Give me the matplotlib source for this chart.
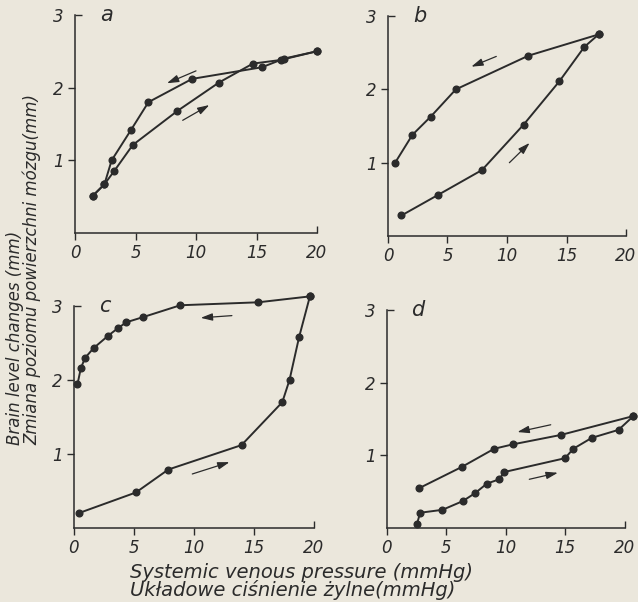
import matplotlib
matplotlib.use("Agg")
import matplotlib.pyplot as plt
import matplotlib.lines as mlines

# ---- data -------------------------------------------------------------
# panel a
a_up_x = [1.46, 2.43, 3.23, 4.77, 8.47, 11.9, 14.7, 17.0, 20.0]
a_up_y = [0.51, 0.67, 0.85, 1.21, 1.68, 2.07, 2.33, 2.38, 2.50]
a_dn_x = [20.0, 17.3, 15.45, 9.68, 6.07, 4.6, 3.03, 2.43, 1.46]
a_dn_y = [2.50, 2.40, 2.28, 2.12, 1.80, 1.41, 1.00, 0.67, 0.51]
# panel b
b_up_x = [1.13, 4.2, 7.9, 11.4, 14.4, 16.5, 17.7]
b_up_y = [0.28, 0.56, 0.90, 1.52, 2.11, 2.58, 2.75]
b_dn_x = [17.7, 11.8, 5.7, 3.6, 2.05, 0.6]
b_dn_y = [2.75, 2.46, 2.00, 1.63, 1.38, 1.00]
# panel c
c_up_x = [0.42, 5.2, 7.9, 14.0, 17.4, 18.0, 18.8, 19.7]
c_up_y = [0.20, 0.48, 0.79, 1.12, 1.70, 2.00, 2.58, 3.13]
c_dn_x = [19.7, 15.4, 8.9, 5.8, 4.4, 3.7, 2.9, 1.67, 0.97, 0.61, 0.33]
c_dn_y = [3.13, 3.05, 3.01, 2.85, 2.78, 2.70, 2.60, 2.43, 2.30, 2.16, 1.94]
# panel d
d_up_x = [2.55, 2.83, 4.7, 6.41, 7.45, 8.43, 9.47, 9.9, 15.0, 15.7, 17.25, 19.5, 20.75]
d_up_y = [0.05, 0.21, 0.25, 0.37, 0.48, 0.61, 0.67, 0.77, 0.96, 1.09, 1.24, 1.35, 1.54]
d_dn_x = [20.75, 14.65, 10.6, 9.05, 6.33, 2.77]
d_dn_y = [1.54, 1.28, 1.15, 1.09, 0.84, 0.55]

# direction arrows: (tail_x, tail_y, head_x, head_y)
a_arrows = [(10.0, 2.23, 7.6, 2.06), (8.9, 1.55, 11.1, 1.76)]
b_arrows = [(9.1, 2.45, 7.0, 2.31), (10.2, 1.00, 11.9, 1.27)]
c_arrows = [(13.2, 2.87, 10.6, 2.84), (9.9, 0.73, 13.0, 0.89)]
d_arrows = [(13.8, 1.42, 11.0, 1.32), (12.0, 0.67, 14.4, 0.76)]

panel_letters = ["a", "b", "c", "d"]
x_ticks = [0, 5, 10, 15, 20]
y_ticks = [1, 2, 3]
xlabel_en = "Systemic venous pressure (mmHg)"
xlabel_pl = "Układowe ciśnienie żylne(mmHg)"
ylabel_en = "Brain level changes (mm)"
ylabel_pl = "Zmiana poziomu powierzchni mózgu(mm)"

# ---- style ------------------------------------------------------------
BG = "#ebe7dc"
INK = "#2b2b2b"
W, H = 638, 602
fig = plt.figure(figsize=(W / 100, H / 100), dpi=100, facecolor=BG)
plt.rcParams["font.family"] = ["DejaVu Sans"]

XMAX, YMAX = 21.0, 3.25
# (left_px, x0_bottom_px, px_per_x, px_per_y)
geoms = [
    (75, 233, 12.1, 72.7),
    (388, 236, 11.9, 73.3),
    (73.5, 528, 12.0, 74.0),
    (386.5, 528, 11.9, 72.7),
]
panels = [
    (a_up_x, a_up_y, a_dn_x, a_dn_y, a_arrows),
    (b_up_x, b_up_y, b_dn_x, b_dn_y, b_arrows),
    (c_up_x, c_up_y, c_dn_x, c_dn_y, c_arrows),
    (d_up_x, d_up_y, d_dn_x, d_dn_y, d_arrows),
]

for (lp, bp, sx, sy), (ux, uy, dx, dy, arrows), letter in zip(geoms, panels, panel_letters):
    ax = fig.add_axes([lp / W, (H - bp) / H, XMAX * sx / W, YMAX * sy / H])
    ax.set_facecolor("none")
    ax.set_xlim(0, XMAX)
    ax.set_ylim(0, YMAX)
    for s in ["top", "right"]:
        ax.spines[s].set_visible(False)
    ax.spines["left"].set_bounds(0, 3)
    ax.spines["bottom"].set_bounds(0, 20)
    for s in ["left", "bottom"]:
        ax.spines[s].set_color(INK)
        ax.spines[s].set_linewidth(1.1)
    ax.set_xticks(x_ticks)
    ax.set_yticks(y_ticks)
    ax.tick_params(direction="out", length=5, width=1.0, color=INK,
                   labelcolor=INK, labelsize=12, pad=3)
    for lab in ax.get_xticklabels() + ax.get_yticklabels():
        lab.set_fontstyle("italic")
    # end ticks point inward
    ax.yaxis.get_major_ticks()[-1].tick1line.set_marker(mlines.TICKRIGHT)
    ax.xaxis.get_major_ticks()[-1].tick1line.set_marker(mlines.TICKUP)

    for xs, ys in [(ux, uy), (dx, dy)]:
        ax.plot(xs, ys, color=INK, lw=1.4, marker="o", ms=4.8,
                mfc=INK, mec=INK, clip_on=False, zorder=3)
    for tx, ty, hx, hy in arrows:
        ax.annotate("", xy=(hx, hy), xytext=(tx, ty),
                    arrowprops=dict(arrowstyle="-|>,head_length=0.7,head_width=0.22",
                                    color=INK, lw=0.9, shrinkA=0, shrinkB=0))
    ax.text(2.1, 3.0, letter, fontsize=15, fontstyle="italic", color=INK,
            ha="left", va="center")

fig.text(130 / W, (H - 572) / H, xlabel_en, fontsize=14, fontstyle="italic",
         color=INK, ha="left", va="center")
fig.text(130 / W, (H - 590) / H, xlabel_pl, fontsize=14, fontstyle="italic",
         color=INK, ha="left", va="center")
fig.text(15 / W, (H - 445) / H, ylabel_en, fontsize=12, fontstyle="italic",
         color=INK, ha="center", va="bottom", rotation=90)
fig.text(32 / W, (H - 445) / H, ylabel_pl, fontsize=12, fontstyle="italic",
         color=INK, ha="center", va="bottom", rotation=90)

fig.savefig("out.png", dpi=100, facecolor=BG)
